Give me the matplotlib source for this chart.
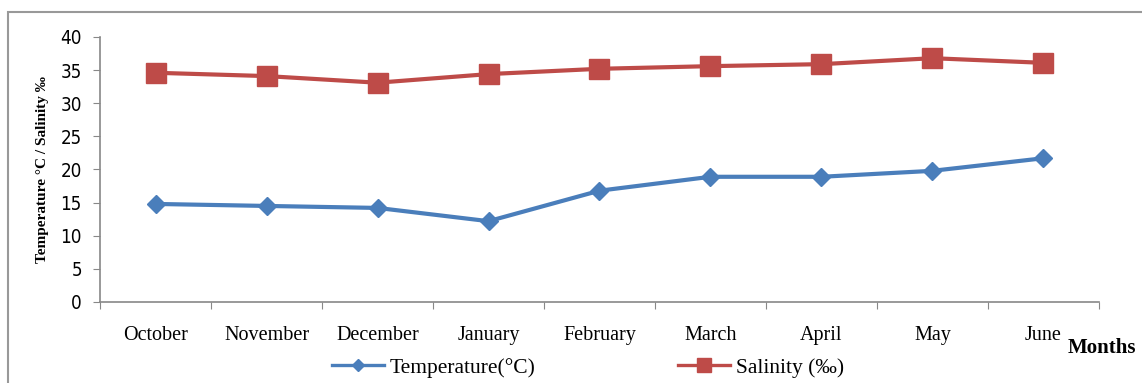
import matplotlib
matplotlib.use("Agg")
import matplotlib.pyplot as plt
from matplotlib.patches import Rectangle

months = ["October", "November", "December", "January", "February", "March", "April", "May", "June"]
temperature = [14.8, 14.5, 14.2, 12.2, 16.8, 18.9, 18.9, 19.8, 21.7]
salinity = [34.6, 34.1, 33.1, 34.4, 35.2, 35.6, 35.9, 36.8, 36.1]
yticks = [0, 5, 10, 15, 20, 25, 30, 35, 40]

plt.rcParams['font.family'] = ['Liberation Serif', 'DejaVu Serif']

fig = plt.figure(figsize=(11.42, 3.83), dpi=100)
ax = fig.add_axes([0.0876, 0.2115, 0.8747, 0.6919])

x = list(range(len(months)))
blue = "#4A7EBB"
red = "#BE4B48"
lt, = ax.plot(x, temperature, color=blue, lw=3, marker="D", markersize=9, label="Temperature(\u00b0C)")
ls, = ax.plot(x, salinity, color=red, lw=3, marker="s", markersize=14, label="Salinity (\u2030)")

ax.set_xlim(-0.5, len(months) - 0.5)
ax.set_ylim(0, 40)
ax.set_yticks(yticks)
ax.set_yticklabels([str(v) for v in yticks], fontsize=13.5, family=['DejaVu Sans'], stretch='condensed')
ax.set_xticks([i - 0.5 for i in range(len(months) + 1)])
ax.set_xticklabels([])
ax.set_xticks(x, minor=True)
ax.set_xticklabels(months, minor=True, fontsize=14.5)
ax.tick_params(axis='x', which='minor', length=0, pad=17)
ax.tick_params(axis='x', which='major', length=5, direction='out', color='#888888')
ax.tick_params(axis='y', length=5, direction='out', color='#888888', pad=8)
for s in ["top", "right"]:
    ax.spines[s].set_visible(False)
for s in ["left", "bottom"]:
    ax.spines[s].set_color("#888888")
    ax.spines[s].set_linewidth(1.2)

ax.set_ylabel("Temperature \u00b0C / Salinity \u2030", fontsize=11, fontweight='bold', labelpad=8)
fig.text(0.935, 0.092, "Months", fontsize=15, fontweight='bold', ha='left', va='center')

leg = fig.legend(handles=[lt, ls], loc='center', bbox_to_anchor=(0.515, 0.04), ncol=2,
                 frameon=False, fontsize=15.5, columnspacing=6.6, handlelength=2.4,
                 handletextpad=0.3)
for h in leg.legend_handles:
    h.set_linewidth(2.4)
leg.legend_handles[0].set_markersize(6)
leg.legend_handles[1].set_markersize(10)

fig.patches.append(Rectangle((0.007, -0.1), 1.1, 1.068, transform=fig.transFigure,
                             fill=False, edgecolor="#999999", lw=1.5))

fig.savefig("out.png", dpi=100)
